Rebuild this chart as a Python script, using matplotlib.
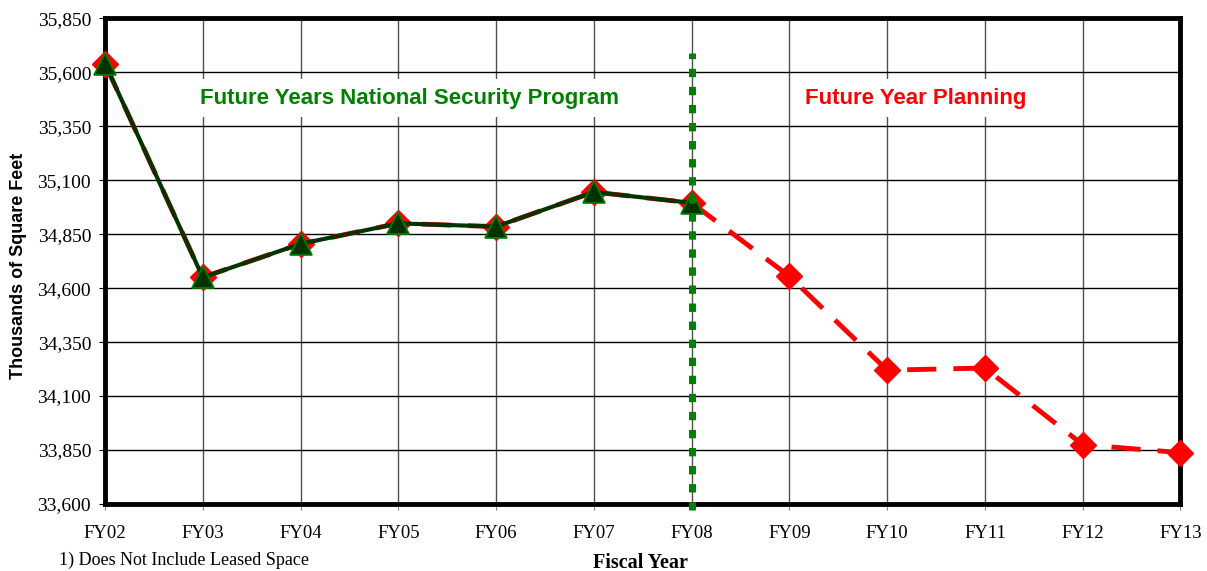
import numpy as np
import matplotlib.pyplot as plt

# ---------------------
# Data (thousands of square feet)

years = ["FY02", "FY03", "FY04", "FY05", "FY06", "FY07",
         "FY08", "FY09", "FY10", "FY11", "FY12", "FY13"]

planning = [35640, 34650, 34805, 34900, 34885, 35045,
            34995, 34655, 34220, 34230, 33875, 33838]

fysp_years = years[:7]
fysp = [35640, 34650, 34805, 34900, 34885, 35045, 34995]

yticks = np.arange(33600, 35851, 250)

serif = ["Liberation Serif", "DejaVu Serif"]
sans = ["Liberation Sans", "DejaVu Sans"]

# ---------------------

fig = plt.figure(figsize=(12.07, 5.71), dpi=100)
ax = fig.add_axes([0.087, 0.1173, 0.891, 0.8507])

x = np.arange(len(years))
xf = np.arange(len(fysp_years))

ax.plot(x, planning, color="#ff0000", lw=3.5, ls=(0, (6, 3.5)),
        marker="D", ms=13, mfc="#ff0000", mec="#ff0000", zorder=3, clip_on=False)
ax.plot(xf, fysp, color="#003300", lw=3,
        marker="^", ms=16, mfc="#003300", mec="#008000", mew=1.2, zorder=4,
        clip_on=False)

# divider between program and planning years
ax.plot([6, 6], [33570, 35690], color="#008000", lw=5, ls=(0, (1.2, 1.4)),
        clip_on=False, zorder=5)

ax.set_xlim(0, len(years) - 1)
ax.set_ylim(33600, 35850)
ax.set_xticks(x)
ax.set_xticklabels(years, fontfamily=serif, fontsize=13.5)
ax.set_yticks(yticks)
ax.set_yticklabels([f"{v:,}" for v in yticks], fontfamily=serif, fontsize=14)
ax.tick_params(axis="x", length=4, pad=11, color="#808080")
ax.tick_params(axis="y", length=4, pad=6)

ax.grid(True, axis="y", color="black", lw=1)
ax.grid(True, axis="x", color="#505050", lw=1)
ax.set_axisbelow(True)
for s in ax.spines.values():
    s.set_linewidth(3.5)
    s.set_color("black")

ax.text(3.11, 35480, "Future Years National Security Program", color="#008000",
        fontsize=16, fontweight="bold", fontfamily=sans, ha="center", va="center",
        bbox=dict(fc="white", ec="none", pad=6))
ax.text(8.29, 35480, "Future Year Planning", color="#ff0000",
        fontsize=16, fontweight="bold", fontfamily=sans, ha="center", va="center",
        bbox=dict(fc="white", ec="none", pad=6))

ax.set_ylabel("Thousands of Square Feet", fontfamily=sans, fontweight="bold",
              fontsize=13, va="center")
ax.yaxis.set_label_coords(-0.080, 0.49)
fig.text(0.531, -0.004, "Fiscal Year", fontfamily=serif, fontweight="bold",
         fontsize=14.5, ha="center", va="bottom")
fig.text(0.049, 0.004, "1) Does Not Include Leased Space", fontfamily=serif,
         fontsize=13, ha="left", va="bottom")

fig.savefig("out.png", dpi=100)
